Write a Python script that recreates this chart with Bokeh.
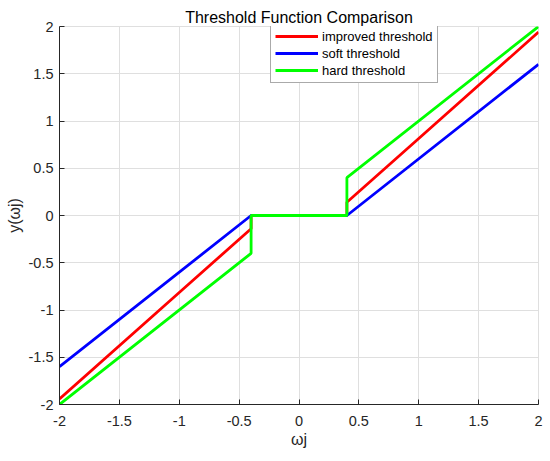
from bokeh.plotting import figure
from bokeh.models import Range1d, FixedTicker, Legend, LegendItem
from bokeh.embed import file_html
from bokeh.resources import INLINE

# ---- data ----
x_improved = [-2.0, -1.0, -0.4, -0.4, 0.4, 0.4, 1.0, 2.0]
y_improved = [-1.94, -0.815, -0.14, 0.0, 0.0, 0.14, 0.815, 1.94]

x_soft = [-2.0, -0.4, 0.4, 2.0]
y_soft = [-1.6, 0.0, 0.0, 1.6]

x_hard = [-2.0, -0.4, -0.4, 0.4, 0.4, 2.0]
y_hard = [-2.0, -0.4, 0.0, 0.0, 0.4, 2.0]

ticks = [-2, -1.5, -1, -0.5, 0, 0.5, 1, 1.5, 2]
tick_labels = {-2: "-2", -1.5: "-1.5", -1: "-1", -0.5: "-0.5", 0: "0",
               0.5: "0.5", 1: "1", 1.5: "1.5", 2: "2"}

title_text = "Threshold Function Comparison"
x_label = "ωj"
y_label = "y(ωj)"
names = ["improved threshold", "soft threshold", "hard threshold"]
colors = ["#ff0000", "#0000ff", "#00ff00"]

FONT = "Liberation Sans"
AX = "#262626"
GRID = "#dfdfdf"

p = figure(width=550, height=461, output_backend="svg", toolbar_location=None,
           x_range=Range1d(-2, 2), y_range=Range1d(-2, 2),
           min_border_left=59, min_border_right=12, min_border_top=26,
           min_border_bottom=57)

p.title.text = title_text
p.title.text_font = FONT
p.title.text_font_size = "16px"
p.title.text_font_style = "normal"
p.title.text_color = "#000000"
p.title.align = "center"
p.title.standoff = 2

for ax in (p.xaxis[0], p.yaxis[0]):
    ax.ticker = FixedTicker(ticks=ticks)
    ax.major_label_overrides = tick_labels
    ax.major_label_text_font = FONT
    ax.major_label_text_font_size = "14.5px"
    ax.major_label_text_color = AX
    ax.axis_line_color = AX
    ax.major_tick_line_color = AX
    ax.major_tick_in = 5
    ax.major_tick_out = 0
    ax.minor_tick_line_color = None
    ax.axis_label_text_font = FONT
    ax.axis_label_text_font_size = "16px"
    ax.axis_label_text_font_style = "normal"
    ax.axis_label_text_color = AX

p.xaxis.axis_label = x_label
p.yaxis.axis_label = y_label
p.xaxis.major_label_standoff = 11
p.yaxis.major_label_standoff = 6
p.xaxis.axis_label_standoff = 2
p.yaxis.axis_label_standoff = 3

p.xgrid.ticker = FixedTicker(ticks=ticks)
p.ygrid.ticker = FixedTicker(ticks=ticks)
p.grid.grid_line_color = GRID
p.grid.grid_line_width = 1
p.outline_line_color = GRID

r1 = p.line(x_improved, y_improved, line_color=colors[0], line_width=2.8)
r2 = p.line(x_soft, y_soft, line_color=colors[1], line_width=2.8)
r3 = p.line(x_hard, y_hard, line_color=colors[2], line_width=2.8)

legend = Legend(items=[LegendItem(label=names[0], renderers=[r1]),
                       LegendItem(label=names[1], renderers=[r2]),
                       LegendItem(label=names[2], renderers=[r3])],
                location=(211, 321))
legend.label_text_font = FONT
legend.label_text_font_size = "13px"
legend.label_text_color = "#000000"
legend.glyph_width = 43
legend.glyph_height = 16
legend.label_height = 16
legend.label_standoff = 4
legend.spacing = 1
legend.padding = 4
legend.margin = 0
legend.border_line_color = "#555555"
legend.border_line_width = 1
legend.background_fill_color = "#ffffff"
legend.background_fill_alpha = 1
p.add_layout(legend, "center")

open("out.html", "w").write(file_html(p, INLINE))
